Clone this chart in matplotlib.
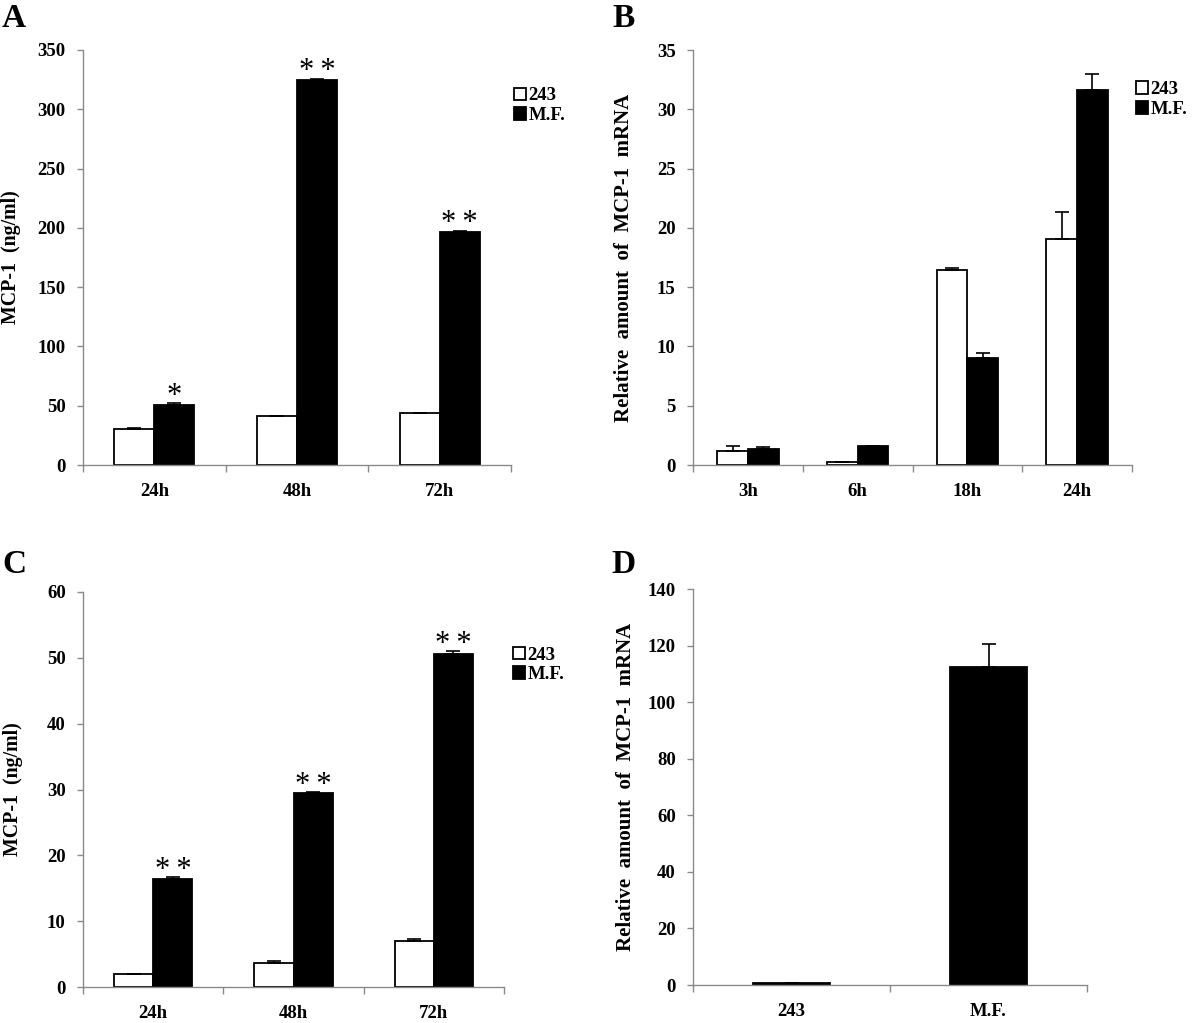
import matplotlib
matplotlib.use("Agg")
import matplotlib.pyplot as plt
import numpy as np
from matplotlib.patches import Patch

plt.rcParams['font.family'] = ['Liberation Serif', 'DejaVu Serif']
plt.rcParams['font.weight'] = 'bold'

# ---------------- data ----------------
series_names = ["243", "M.F."]

a_cats = ["24h", "48h", "72h"]
a_243 = [30.0, 41.0, 43.6]
a_243_err = [1.0, 0.4, 0.4]
a_mf = [50.6, 324.7, 196.5]
a_mf_err = [1.5, 1.2, 1.2]
a_sig = ["*", "*\u2009*", "*\u2009*"]

b_cats = ["3h", "6h", "18h", "24h"]
b_243 = [1.21, 0.25, 16.45, 19.06]
b_243_err = [0.42, 0.0, 0.15, 2.25]
b_mf = [1.35, 1.63, 9.0, 31.63]
b_mf_err = [0.15, 0.0, 0.42, 1.35]

c_cats = ["24h", "48h", "72h"]
c_243 = [1.9, 3.6, 7.04]
c_243_err = [0.0, 0.3, 0.3]
c_mf = [16.46, 29.47, 50.53]
c_mf_err = [0.25, 0.15, 0.45]
c_sig = ["*\u2009*", "*\u2009*", "*\u2009*"]

d_cats = ["243", "M.F."]
d_vals = [0.6, 112.6]
d_err = [0.0, 8.1]

# ---------------- style ----------------
FS_TICK = 13.5
FS_LETTER = 24
GRAY = "#8a8a8a"
W = 0.28

fig = plt.figure(figsize=(12, 10.23), dpi=100)
FW, FH = 1200.0, 1023.0


def make_ax(l, r, t, b):
    return fig.add_axes([l / FW, 1 - b / FH, (r - l) / FW, (b - t) / FH])


def style_ax(ax, ncat, ymax, ystep, labels, ylabel, ylabel_x, ylabel_fs):
    ax.set_xlim(-0.5, ncat - 0.5)
    ax.set_ylim(0, ymax)
    ax.set_yticks(np.arange(0, ymax + ystep / 2, ystep))
    ax.set_xticks(np.arange(ncat))
    ax.set_xticklabels(labels)
    ax.set_xticks(np.arange(-0.5, ncat, 1.0), minor=True)
    ax.tick_params(axis='x', which='major', length=0, pad=13, labelsize=FS_TICK)
    ax.tick_params(axis='x', which='minor', length=5, width=1, color=GRAY, direction='out')
    ax.tick_params(axis='y', which='major', length=4.5, width=1, color=GRAY,
                   direction='out', pad=8, labelsize=FS_TICK)
    for s in ['top', 'right']:
        ax.spines[s].set_visible(False)
    for s in ['left', 'bottom']:
        ax.spines[s].set_color(GRAY)
        ax.spines[s].set_linewidth(1.0)
    for lab in ax.get_xticklabels() + ax.get_yticklabels():
        lab.set_fontweight('bold')
    ax.set_ylabel(ylabel, fontsize=ylabel_fs, fontweight='bold')
    ax.yaxis.set_label_coords(ylabel_x, 0.5)


def grouped(ax, v1, e1, v2, e2):
    x = np.arange(len(v1))
    ax.bar(x - W / 2, v1, W, color='white', edgecolor='black', linewidth=1.3, zorder=2)
    ax.bar(x + W / 2, v2, W, color='black', edgecolor='black', linewidth=1.3, zorder=2)
    ax.errorbar(x - W / 2, v1, yerr=[np.zeros(len(v1)), e1], fmt='none', ecolor='black',
                elinewidth=1.2, capsize=5, capthick=1.2, zorder=3)
    ax.errorbar(x + W / 2, v2, yerr=[np.zeros(len(v2)), e2], fmt='none', ecolor='black',
                elinewidth=1.2, capsize=5, capthick=1.2, zorder=3)
    return x


def legend(ax, xa, ya):
    handles = [Patch(facecolor='white', edgecolor='black', linewidth=1.3),
               Patch(facecolor='black', edgecolor='black', linewidth=1.3)]
    ax.legend(handles, series_names, loc='upper left', bbox_to_anchor=(xa, ya),
              frameon=False, borderaxespad=0, borderpad=0, handlelength=0.65,
              handleheight=0.65, handletextpad=0.12, labelspacing=0.15,
              prop={'family': 'Liberation Serif', 'weight': 'bold', 'size': FS_TICK})


def stars(ax, x, vals, errs, sig):
    for xi, v, e, s in zip(x, vals, errs, sig):
        ax.annotate(s, (xi + W / 2, v + e), xytext=(0, -0.5), textcoords='offset points',
                    ha='center', va='baseline', fontsize=22, fontweight='normal')


# Panel A
axA = make_ax(83, 511, 50, 465)
style_ax(axA, 3, 350, 50, a_cats, "MCP-1  (ng/ml)", -0.145, 14.3)
x = grouped(axA, a_243, a_243_err, a_mf, a_mf_err)
stars(axA, x, a_mf, a_mf_err, a_sig)
legend(axA, 1.007, 0.91)

# Panel B
axB = make_ax(693, 1132, 50, 465)
style_ax(axB, 4, 35, 5, b_cats, "Relative  amount  of  MCP-1  mRNA", -0.134, 15)
grouped(axB, b_243, b_243_err, b_mf, b_mf_err)
legend(axB, 1.009, 0.925)

# Panel C
axC = make_ax(83, 504, 592, 987)
style_ax(axC, 3, 60, 10, c_cats, "MCP-1  (ng/ml)", -0.1425, 14.3)
x = grouped(axC, c_243, c_243_err, c_mf, c_mf_err)
stars(axC, x, c_mf, c_mf_err, c_sig)
legend(axC, 1.022, 0.862)

# Panel D
axD = make_ax(693, 1087, 589, 985)
style_ax(axD, 2, 140, 20, d_cats, "Relative  amount  of  MCP-1  mRNA", -0.145, 15)
xd = np.arange(len(d_vals))
axD.bar(xd, d_vals, 0.395, color='black', edgecolor='black', linewidth=1.3, zorder=2)
axD.errorbar(xd, d_vals, yerr=[np.zeros(len(d_vals)), d_err], fmt='none', ecolor='black',
             elinewidth=1.2, capsize=5, capthick=1.2, zorder=3)

# Panel letters
for letter, px, py in [("A", 2, 27), ("B", 612, 27), ("C", 2, 573), ("D", 611, 573)]:
    fig.text(px / FW, 1 - py / FH, letter, fontsize=FS_LETTER, fontweight='bold',
             ha='left', va='baseline')

fig.savefig("out.png", dpi=100)
